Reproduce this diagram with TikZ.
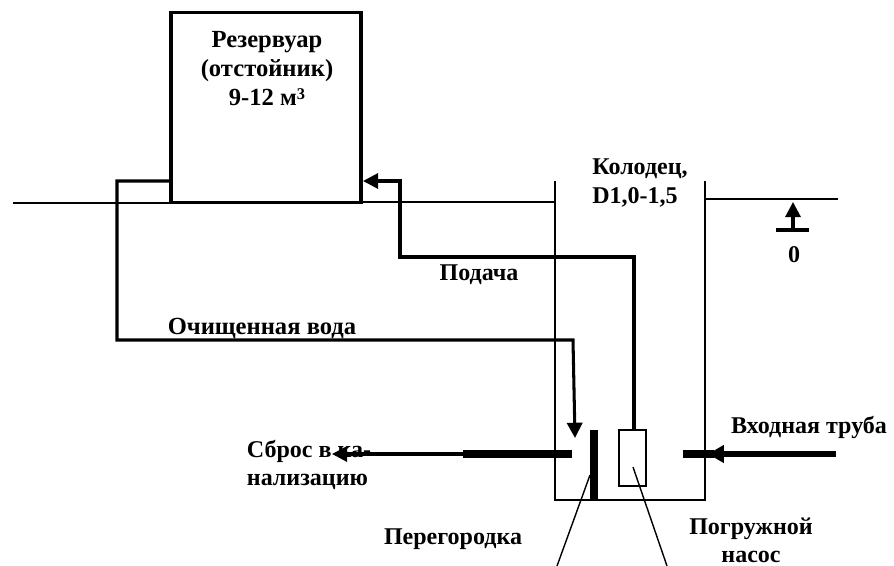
\documentclass[tikz,border=0pt]{standalone}
\usepackage{fontspec}
\setmainfont{Liberation Serif}
\usetikzlibrary{arrows.meta}

\tikzset{
	label/.style = {font=\bfseries\fontsize{20.5}{24}\selectfont, align=center, inner sep=0pt},
	thin line/.style = {line width=1.2pt},
	pipe/.style = {line width=2.6pt},
	fat pipe/.style = {line width=6.6pt},
	head/.style = {-{Triangle[length=13pt,width=13pt]}}
}

\begin{document}
\begin{tikzpicture}[x=0.03cm, y=-0.03cm]
	\useasboundingbox (0,0) rectangle (894,566);

	\node (tank) at (266,107.5) [draw, pipe, minimum width=5.7cm, minimum height=5.7cm, inner sep=0pt] {};
	\node (pump) at (632.5,458) [draw, thin line, minimum width=.81cm, minimum height=1.68cm, inner sep=0pt] {};

	\node (tanktext) at (267,68.5) [label, font=\bfseries\fontsize{21}{24.5}\selectfont] {Резервуар\\(отстойник)\\9-12 м\raisebox{.5ex}{\fontsize{14}{14}\selectfont 3}};
	\node (welltext) at (640,183) [label, align=left] {Колодец,\\D1,0-1,5};
	\node (zero) at (794,255) [label] {0};
	\node (feed) at (479,275) [label] {Подача};
	\node (clean) at (262,328) [label, font=\bfseries\fontsize{21}{24}\selectfont] {Очищенная вода};
	\node (drain) at (309,465) [label, align=left] {Сброс в ка-\\нализацию};
	\node (inlet) at (809,427) [label] {Входная труба};
	\node (wall) at (453,539) [label] {Перегородка};
	\node (pumptext) at (751,540) [label] {Погружной\\насос};

	\coordinate (g1) at (13,203);
	\coordinate (g2) at (171,203);
	\coordinate (g3) at (361,202);
	\coordinate (g4) at (555,202);
	\coordinate (g5) at (705,199);
	\coordinate (g6) at (838,199);
	\draw [thin line] (g1) -- (g2);
	\draw [thin line] (g3) -- (g4);
	\draw [thin line] (g5) -- (g6);

	\coordinate (w1) at (555,181);
	\coordinate (w2) at (555,500);
	\coordinate (w3) at (705,500);
	\coordinate (w4) at (705,181);
	\draw [thin line] (w1) -- (w2) -- (w3) -- (w4);

	\coordinate (c1) at (171,181);
	\coordinate (c2) at (117,181);
	\coordinate (c3) at (117,340);
	\coordinate (c4) at (573,340);
	\coordinate (c5) at (575,438);
	\draw [pipe, head] (c1) -- (c2) -- (c3) -- (c4) -- (c5);

	\coordinate (f1) at (634,430);
	\coordinate (f2) at (634,257);
	\coordinate (f3) at (400,257);
	\coordinate (f4) at (400,181);
	\coordinate (f5) at (363,181);
	\draw [pipe, head] (f1) -- (f2) -- (f3) -- (f4) -- (f5);

	\coordinate (d1) at (572,454);
	\coordinate (d2) at (463,454);
	\coordinate (d3) at (332,454);
	\draw [fat pipe] (d1) -- (d2);
	\draw [pipe, head] (d2) -- (d3);

	\coordinate (i1) at (836,454);
	\coordinate (i2) at (708,454);
	\coordinate (i3) at (683,454);
	\coordinate (i4) at (714,454);
	\draw [fat pipe] (i4) -- (i3);
	\draw [line width=5pt, -{Triangle[length=13.5pt,width=14.5pt]}] (i1) -- (i2);

	\coordinate (p1) at (594,430);
	\coordinate (p2) at (594,500);
	\draw [fat pipe] (p1) -- (p2);

	\coordinate (l1) at (590,475);
	\coordinate (l2) at (557,566);
	\coordinate (l3) at (633,467);
	\coordinate (l4) at (667,566);
	\draw [thin line] (l1) -- (l2);
	\draw [thin line] (l3) -- (l4);

	\coordinate (z1) at (793,231);
	\coordinate (z2) at (793,202);
	\coordinate (z3) at (776,230);
	\coordinate (z4) at (809,230);
	\draw [pipe, head] (z1) -- (z2);
	\draw [pipe] (z3) -- (z4);
\end{tikzpicture}
\end{document}
